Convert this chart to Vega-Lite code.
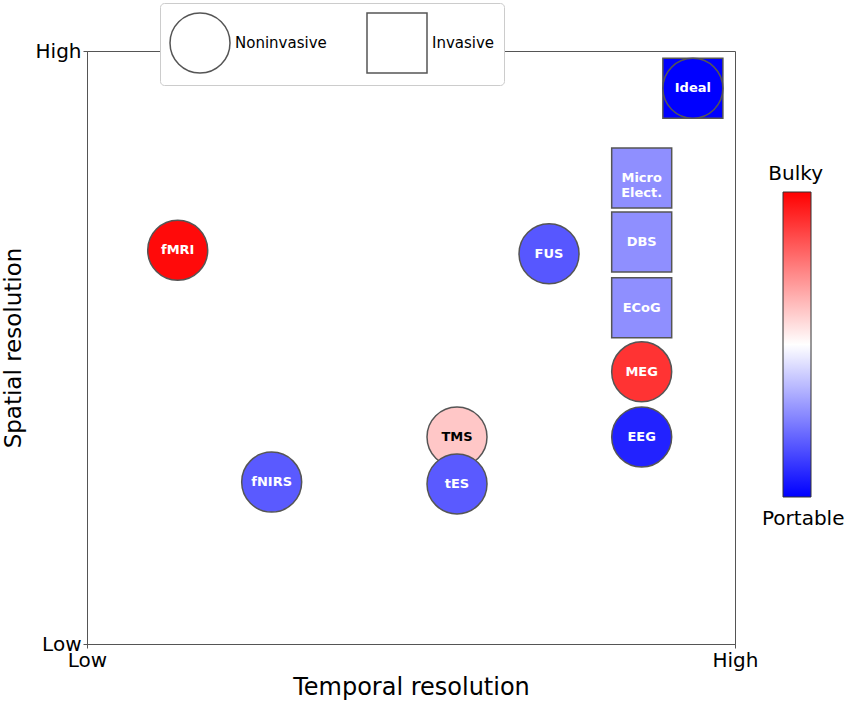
{
  "$schema": "https://vega.github.io/schema/vega-lite/v6.json",
  "width": 648,
  "height": 593,
  "autosize": "none",
  "padding": {"left": 87, "top": 51, "right": 115, "bottom": 60},
  "background": "white",
  "config": {
    "view": {"stroke": "#555", "strokeWidth": 1},
    "font": "DejaVu Sans"
  },
  "data": {
    "values": [
      {"label": "fMRI", "temporal": 0.140, "spatial": 0.664, "bulk": 0.98, "type": "Noninvasive"},
      {"label": "fNIRS", "temporal": 0.285, "spatial": 0.273, "bulk": 0.176, "type": "Noninvasive"},
      {"label": "TMS", "temporal": 0.571, "spatial": 0.349, "bulk": 0.61, "type": "Noninvasive"},
      {"label": "tES", "temporal": 0.571, "spatial": 0.270, "bulk": 0.176, "type": "Noninvasive"},
      {"label": "FUS", "temporal": 0.713, "spatial": 0.658, "bulk": 0.17, "type": "Noninvasive"},
      {"label": "MEG", "temporal": 0.856, "spatial": 0.459, "bulk": 0.9, "type": "Noninvasive"},
      {"label": "EEG", "temporal": 0.856, "spatial": 0.349, "bulk": 0.067, "type": "Noninvasive"},
      {"label": "ECoG", "temporal": 0.856, "spatial": 0.567, "bulk": 0.28, "type": "Invasive"},
      {"label": "DBS", "temporal": 0.856, "spatial": 0.678, "bulk": 0.28, "type": "Invasive"},
      {"label": "Micro\nElect.", "temporal": 0.856, "spatial": 0.786, "bulk": 0.28, "type": "Invasive"},
      {"label": "Ideal", "temporal": 0.935, "spatial": 0.937, "bulk": 0.0, "type": "Invasive"},
      {"label": "Ideal", "temporal": 0.935, "spatial": 0.937, "bulk": 0.0, "type": "Noninvasive"}
    ]
  },
  "encoding": {
    "x": {
      "field": "temporal", "type": "quantitative",
      "scale": {"domain": [0, 1], "nice": false, "zero": false},
      "axis": {
        "title": "Temporal resolution", "titleFontSize": 24, "titleFontWeight": "normal", "titleColor": "black",
        "titlePadding": 5,
        "values": [0, 1], "labelExpr": "datum.value == 0 ? 'Low' : 'High'",
        "labelFontSize": 20, "labelColor": "black", "labelFlush": false, "labelPadding": 2,
        "grid": false, "tickSize": 4, "tickColor": "#555", "domainColor": "#555"
      }
    },
    "y": {
      "field": "spatial", "type": "quantitative",
      "scale": {"domain": [0, 1], "nice": false, "zero": false},
      "axis": {
        "title": "Spatial resolution", "titleFontSize": 23, "titleFontWeight": "normal", "titleColor": "black",
        "titlePadding": 10,
        "values": [0, 1], "labelExpr": "datum.value == 0 ? 'Low' : 'High'",
        "labelFontSize": 20, "labelColor": "black", "labelFlush": false, "labelPadding": 2,
        "grid": false, "tickSize": 4, "tickColor": "#555", "domainColor": "#555"
      }
    }
  },
  "layer": [
    {
      "mark": {"type": "point", "filled": true, "opacity": 1, "stroke": "#555", "strokeWidth": 1.5, "size": 3600},
      "encoding": {
        "shape": {
          "field": "type", "type": "nominal",
          "scale": {"domain": ["Noninvasive", "Invasive"], "range": ["circle", "square"]},
          "legend": {
            "title": null, "orient": "none", "legendX": 73, "legendY": -48, "direction": "horizontal",
            "padding": 9, "fillColor": "white", "strokeColor": "#ccc", "cornerRadius": 4,
            "symbolSize": 3600, "labelFontSize": 15, "labelColor": "black", "labelOffset": 4,
            "columnPadding": 37, "symbolStrokeWidth": 1.5, "symbolFillColor": "white", "symbolStrokeColor": "#555",
            "encode": {"symbols": {"fill": {"value": "white"}, "stroke": {"value": "#555"}, "strokeWidth": {"value": 1.5}, "opacity": {"value": 1}}}
          }
        },
        "fill": {
          "field": "bulk", "type": "quantitative",
          "scale": {"domain": [0, 0.5, 1], "range": ["#0000ff", "#ffffff", "#ff0000"], "interpolate": "rgb"},
          "legend": {
            "title": null, "orient": "none", "legendX": 696, "legendY": 141, "direction": "vertical",
            "gradientLength": 305, "gradientThickness": 28, "gradientStrokeColor": "#333", "gradientStrokeWidth": 1,
            "values": [-0.105, 1.092], "labelOverlap": false,
            "labelExpr": "datum.value > 0.5 ? '\u200b\u00a0Bulky' : 'Portable'",
            "labelFontSize": 20, "labelColor": "black", "labelOffset": -49, "labelLimit": 200
          }
        }
      }
    },
    {
      "transform": [{"filter": "!(datum.label === 'Ideal' && datum.type === 'Invasive')"}],
      "mark": {"type": "text", "fontWeight": "bold", "fontSize": 13, "lineBreak": "\n", "align": "center", "baseline": "middle"},
      "encoding": {
        "text": {"field": "label"},
        "color": {"condition": {"test": "abs(datum.bulk - 0.5) < 0.15", "value": "black"}, "value": "white"}
      }
    }
  ]
}
